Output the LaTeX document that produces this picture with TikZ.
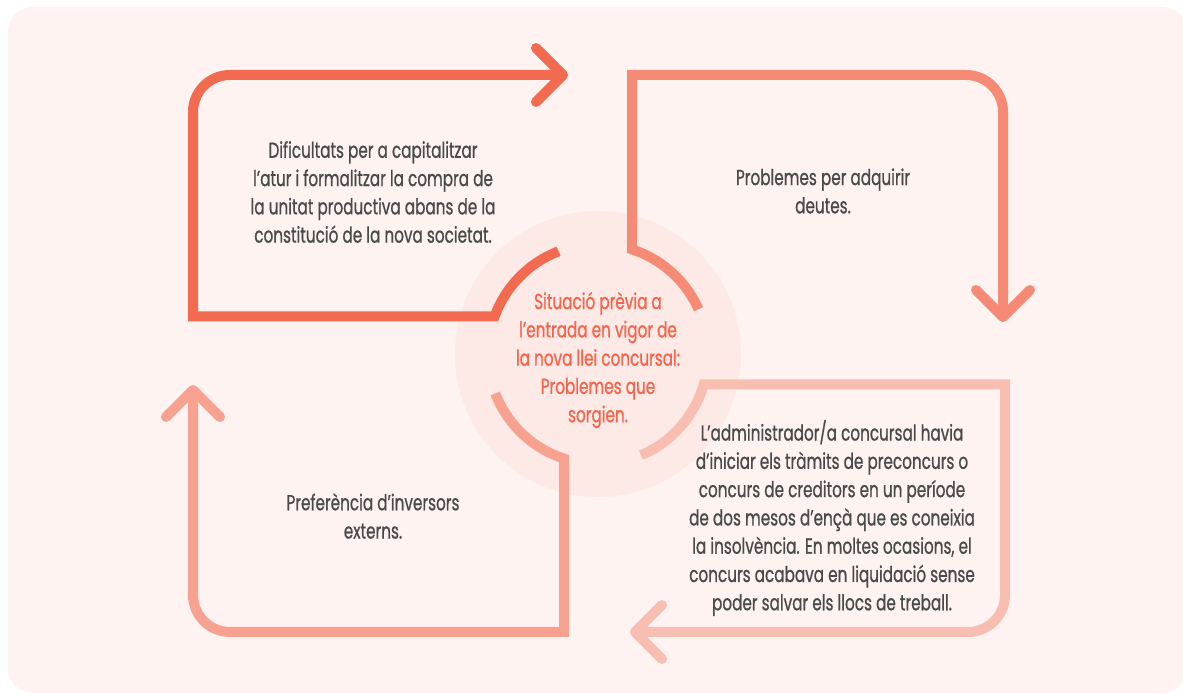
\documentclass[tikz,border=0pt]{standalone}
\usepackage{fontspec}
\setmainfont{Poppins}[FakeStretch=0.7, FakeBold=0.8]

\definecolor{fons}{HTML}{FEF3F1}
\definecolor{disc}{HTML}{FDE9E5}
\definecolor{fletxaA}{HTML}{F26B50}
\definecolor{fletxaB}{HTML}{F58B74}
\definecolor{fletxaC}{HTML}{F9BEB2}
\definecolor{fletxaD}{HTML}{F7A291}
\definecolor{textgris}{HTML}{4A4A4A}
\definecolor{textcentre}{HTML}{F4654D}

\tikzset{
  traz/.style={line width=0.2cm},
  punta/.style={line width=0.2cm, line cap=round, line join=round},
  caixa/.style={align=center, text=textgris, font=\fontsize{12.4}{16.1}\selectfont},
}

\begin{document}
\begin{tikzpicture}[x=0.02cm, y=0.02cm]
		\useasboundingbox (0,0) rectangle (1183,695);
		\fill[fons, rounded corners=0.5cm] (8,2) rectangle (1187,688); % Fons
		\fill[disc] (598,341) circle [radius=143]; % Cercle central
		
		\draw[traz, fletxaA] (598,341) ++(111:110) arc [radius=110, start angle=111, end angle=160] -| (193,583) arc [radius=37, start angle=180, end angle=90] -- (563,620); % Dalt esquerra
		\draw[punta, fletxaA] (536,647) -- (563,620) -- (536,593);
		
		\draw[traz, fletxaB] (598,341) ++(24:110) arc [radius=110, start angle=24, end angle=72] |- (966,620) arc [radius=37, start angle=90, end angle=0] -- (1003,378); % Dalt dreta
		\draw[punta, fletxaB] (976,405) -- (1003,378) -- (1030,405);
		
		\draw[traz, fletxaC] (598,341) ++(-67:110) arc [radius=110, start angle=-67, end angle=-16] -| (1005,100) arc [radius=37, start angle=0, end angle=-90] -- (635,63); % Baix dreta
		\draw[punta, fletxaC] (662,90) -- (635,63) -- (662,36);
		
		\draw[traz, fletxaD] (598,341) ++(201:110) arc [radius=110, start angle=201, end angle=252] |- (230,63) arc [radius=37, start angle=270, end angle=180] -- (193,305); % Baix esquerra
		\draw[punta, fletxaD] (166,278) -- (193,305) -- (220,278);
		
		\node[caixa] (dificultats) at (373,503) {Dificultats per a capitalitzar\\l’atur i formalitzar la compra de\\la unitat productiva abans de la\\constitució de la nova societat.};
		\node[caixa] (deutes) at (823,504) {Problemes per adquirir\\deutes.};
		\node[caixa] (inversors) at (373,179) {Preferència d’inversors\\externs.};
		\node[caixa] (administrador) at (832,177) {L’administrador/a concursal havia\\d’iniciar els tràmits de preconcurs o\\concurs de creditors en un període\\de dos mesos d’ençà que es coneixia\\la insolvència. En moltes ocasions, el\\concurs acabava en liquidació sense\\poder salvar els llocs de treball.};
		\node[caixa, text=textcentre] (situacio) at (598,335) {Situació prèvia a\\l’entrada en vigor de\\la nova llei concursal:\\Problemes que\\sorgien.};
	\end{tikzpicture}
\end{document}
